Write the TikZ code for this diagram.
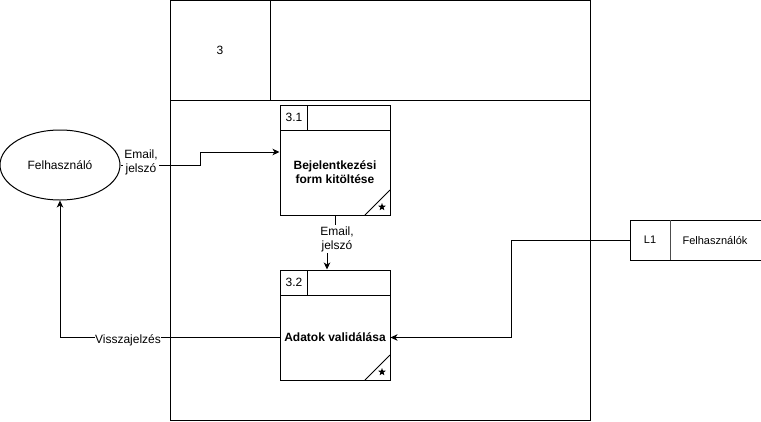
\documentclass[tikz,border=0pt]{standalone}
\usepackage{fontspec}
\setmainfont{Liberation Sans}
\usetikzlibrary{arrows.meta,shapes.geometric,calc}
\tikzset{
  ln/.style={line width=1pt, draw=black},
  arr/.style={ln, -{Stealth[length=7pt,width=6.5pt,inset=2pt]}},
  txt/.style={font=\fontsize{12}{14}\selectfont, align=center, inner sep=1pt},
  smalltxt/.style={font=\fontsize{11}{13}\selectfont, align=center, inner sep=1pt},
  lbl/.style={txt, fill=white},
  body/.style={ln, rectangle, minimum width=110pt, minimum height=85pt, inner sep=0pt, align=center, font=\fontsize{12}{14}\selectfont\bfseries},
  head/.style={ln, rectangle, minimum width=110pt, minimum height=25pt, inner sep=0pt},
  numcell/.style={ln, rectangle, minimum width=27pt, minimum height=25pt, inner sep=0pt, font=\fontsize{12}{14}\selectfont},
  starmark/.style={star, star points=5, star point ratio=2.4, fill=black, draw=none, minimum size=8pt, inner sep=0pt},
  entity/.style={ln, ellipse, minimum width=120pt, minimum height=70pt, inner sep=0pt, font=\fontsize{12}{14}\selectfont}
}
\begin{document}
\begin{tikzpicture}[x=1pt, y=-1pt]
\useasboundingbox (0,0) rectangle (761,421);
% container
\node[ln, rectangle, minimum width=420pt, minimum height=420pt, inner sep=0pt] (cont) at (380,210) {};
\coordinate (hl) at (170,100);
\coordinate (hr) at (590,100);
\draw[ln] (hl) -- (hr);
\coordinate (vt) at (270,0);
\coordinate (vb) at (270,100);
\draw[ln] (vt) -- (vb);
\node[txt] (cnum) at (220,50) {3};

% entity
\node[entity] (fel) at (60,165) {Felhasználó};

% process 3.1
\node[head] (p31h) at (335,117.5) {};
\node[numcell, anchor=west] (p31n) at (280,117.5) {3.1};
\node[body] (p31) at (335,172.5) {Bejelentkezési\\form kitöltése};
\coordinate (c31a) at (365,215);
\coordinate (c31b) at (390,190);
\draw[ln] (c31a) -- (c31b);
\node[starmark] (s31) at (382,207) {};

% process 3.2
\node[head] (p32h) at (335,282.5) {};
\node[numcell, anchor=west] (p32n) at (280,282.5) {3.2};
\node[body] (p32) at (335,337.5) {Adatok validálása};
\coordinate (c32a) at (365,380);
\coordinate (c32b) at (390,355);
\draw[ln] (c32a) -- (c32b);
\node[starmark] (s32) at (382,372) {};

% data store L1
\coordinate (dsr1) at (765,220);
\coordinate (dsl1) at (630,220);
\coordinate (dsl2) at (630,260);
\coordinate (dsr2) at (765,260);
\draw[ln] (dsr1) -- (dsl1) -- (dsl2) -- (dsr2);
\coordinate (dsd1) at (670,220);
\coordinate (dsd2) at (670,260);
\draw[line width=1pt, draw=black!70] (dsd1) -- (dsd2);
\node[smalltxt, minimum width=40pt, minimum height=40pt, inner sep=0pt] (l1) at (650,240) {L1};
\node[smalltxt] (l1name) at (715,240) {Felhasználók};

% connectors
\draw[arr] (fel.east) -- ++(80,0) |- ([yshift=20.5pt]p31.west);
\node[lbl] (lab1) at (141,162) {Email,\\jelszó};

\draw[arr] (p31.south) -- ++(0,27) -| ([xshift=-8pt]p32h.north);
\node[lbl] (lab2) at (337,239) {Email,\\jelszó};

\draw[arr] (l1.west) -- ++(-118,0) |- (p32.east);

\draw[arr] (p32.west) -| (fel.south);
\node[lbl, inner sep=0.5pt] (lab3) at (128,340) {Visszajelzés};
\end{tikzpicture}
\end{document}
